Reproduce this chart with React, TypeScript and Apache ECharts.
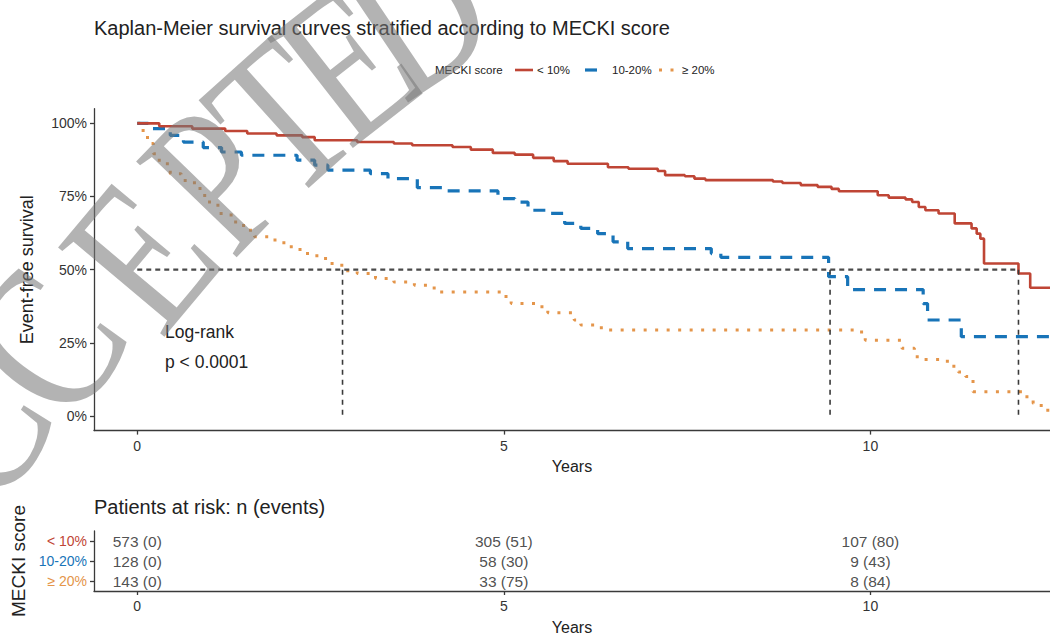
import React, { useEffect, useRef } from "react";
import * as echarts from "echarts";

const FONT = "'Liberation Sans', Arial, Helvetica, sans-serif";

const groups = ["< 10%", "10-20%", "≥ 20%"];
const colors = ["#BF4535", "#1874B8", "#E4954A"];

// Kaplan-Meier step points: time (years) and survival (%)
const lowTimes = [0, 0.3, 0.75, 1.2, 1.5, 1.9, 2.25, 2.42, 3.0, 3.5, 3.75, 4.3, 4.55, 4.85, 5.15, 5.4, 5.68, 5.87, 6.42, 6.7, 7.1, 7.2, 7.47, 7.6, 7.75, 8.67, 8.8, 9.05, 9.28, 9.47, 9.57, 10.1, 10.25, 10.48, 10.57, 10.66, 10.75, 10.93, 11.15, 11.38, 11.45, 11.5, 11.55, 12.02, 12.18, 12.6];
const lowSurv = [100, 99.0, 98.2, 97.4, 96.5, 95.9, 95.3, 94.2, 93.6, 93.1, 92.5, 91.9, 91.0, 89.9, 89.3, 88.2, 87.1, 86.2, 85.0, 84.5, 83.7, 82.3, 81.9, 81.1, 80.6, 80.1, 79.6, 78.9, 78.3, 77.6, 76.8, 75.4, 74.6, 74.0, 73.1, 71.4, 70.3, 69.2, 65.8, 64.1, 62.3, 60.6, 52.1, 48.7, 43.8, 43.8];

const midTimes = [0, 0.15, 0.45, 0.63, 0.9, 1.15, 1.42, 2.18, 2.42, 2.6, 3.18, 3.42, 3.82, 4.22, 4.92, 5.15, 5.33, 5.64, 5.83, 6.05, 6.28, 6.49, 6.69, 7.83, 7.96, 9.43, 9.69, 10.72, 10.78, 11.24, 12.6];
const midSurv = [100, 98.2, 95.9, 93.6, 91.7, 90.2, 89.1, 87.4, 85.7, 84.0, 82.8, 81.1, 78.0, 76.9, 74.3, 73.1, 70.3, 69.2, 65.8, 64.1, 62.3, 59.5, 57.2, 55.5, 54.2, 47.6, 43.2, 38.4, 32.8, 27.1, 27.1];

const highTimes = [0, 0.08, 0.14, 0.22, 0.3, 0.45, 0.6, 0.78, 0.92, 1.1, 1.28, 1.45, 1.6, 1.8, 2.0, 2.22, 2.45, 2.6, 2.79, 3.0, 3.25, 3.5, 3.78, 4.05, 5.03, 5.1, 5.52, 5.6, 5.96, 6.05, 6.33, 9.88, 9.93, 10.43, 10.6, 10.7, 11.05, 11.2, 11.3, 11.4, 12.1, 12.22, 12.33, 12.42, 12.6];
const highSurv = [100, 96.6, 93.1, 89.6, 86.2, 82.8, 80.5, 77.7, 73.1, 69.2, 66.3, 63.5, 61.2, 60.1, 57.8, 55.5, 53.8, 52.1, 49.6, 48.7, 47.0, 45.8, 44.7, 42.4, 39.6, 38.4, 36.4, 35.3, 32.8, 31.1, 29.4, 27.6, 25.9, 23.1, 20.2, 19.3, 17.0, 15.0, 13.5, 8.3, 6.6, 4.3, 2.6, 1.0, 1.0];

// median survival times (years) where each curve crosses 50%
const medianTimes = [2.8, 9.45, 12.02];
const medianLevel = 50;

const xTicks = [0, 5, 10];
const yTicks = [0, 25, 50, 75, 100];

// risk table
const riskTimes = [0, 5, 10];
const atRiskLow = [573, 305, 107];
const eventsLow = [0, 51, 80];
const atRiskMid = [128, 58, 9];
const eventsMid = [0, 30, 43];
const atRiskHigh = [143, 33, 8];
const eventsHigh = [0, 75, 84];

const curveTimes = [lowTimes, midTimes, highTimes];
const curveSurv = [lowSurv, midSurv, highSurv];
const riskN = [atRiskLow, atRiskMid, atRiskHigh];
const riskE = [eventsLow, eventsMid, eventsHigh];

const X_MIN = -0.59;
const X_MAX = 12.45;

export default function App() {
  const ref = useRef<HTMLDivElement>(null);

  useEffect(() => {
    document.body.style.margin = "0";
    if (!ref.current) return;
    const chart = echarts.init(ref.current, null, { renderer: "svg" });

    const axisLineStyle = { color: "#3a3a3a", width: 1.3 };
    const labelStyle = { fontFamily: FONT, fontSize: 14, color: "#333" };

    const lineStyles = [
      { color: colors[0], width: 2.6, type: "solid" as const },
      { color: colors[1], width: 3.2, type: [12, 9] as any },
      { color: colors[2], width: 3, type: [3, 8.5] as any, cap: "butt" as const },
    ];

    const curveSeries = groups.map((g, gi) => ({
      name: g,
      type: "line",
      xAxisIndex: 0,
      yAxisIndex: 0,
      step: "end",
      symbol: "none",
      silent: true,
      lineStyle: lineStyles[gi],
      data: curveTimes[gi].map((t, i) => [t, curveSurv[gi][i]]),
      z: 3 - gi + 2,
    }));

    const medianH = {
      type: "line",
      xAxisIndex: 0,
      yAxisIndex: 0,
      symbol: "none",
      silent: true,
      lineStyle: { color: "#4a4a4a", width: 2.3, type: [5, 4] as any },
      data: [
        [0, medianLevel],
        [Math.max(...medianTimes), medianLevel],
      ],
      z: 10,
    };

    const medianV = medianTimes.map((t) => ({
      type: "line",
      xAxisIndex: 0,
      yAxisIndex: 0,
      symbol: "none",
      silent: true,
      lineStyle: { color: "#3a3a3a", width: 1.6, type: [5, 5] as any },
      data: [
        [t, medianLevel],
        [t, 0],
      ],
      z: 10,
    }));

    const riskSeries = groups.map((g, gi) => ({
      type: "scatter",
      xAxisIndex: 1,
      yAxisIndex: 1,
      symbol: "circle",
      symbolSize: 1,
      silent: true,
      itemStyle: { color: "rgba(0,0,0,0)" },
      label: {
        show: true,
        position: "inside",
        formatter: (p: any) => p.value[2],
        fontFamily: FONT,
        fontSize: 15.5,
        color: "#222",
      },
      data: riskTimes.map((t, i) => [t, g, `${riskN[gi][i]} (${riskE[gi][i]})`]),
    }));

    const watermarkLetters = [
      { ch: "A", x: -95, y: 530, a: 62 },
      { ch: "C", x: -30, y: 428, a: 59 },
      { ch: "C", x: 45, y: 342, a: 55 },
      { ch: "E", x: 140, y: 255, a: 50 },
      { ch: "P", x: 214, y: 178, a: 46 },
      { ch: "T", x: 280, y: 118, a: 42 },
      { ch: "E", x: 346, y: 63, a: 38 },
      { ch: "D", x: 415, y: 12, a: 34 },
    ];

    const legendTextStyle = (text: string, x: number) => ({
      type: "text",
      x,
      y: 70,
      silent: true,
      style: {
        text,
        fontFamily: FONT,
        fontSize: 11.5,
        fill: "#222",
        align: "left",
        verticalAlign: "middle",
        textAlign: "left",
        textVerticalAlign: "middle",
      },
    });

    const option: any = {
      animation: false,
      backgroundColor: "#ffffff",
      title: [
        {
          text: "Kaplan-Meier survival curves stratified according to MECKI score",
          left: 94,
          top: 18,
          padding: 0,
          textStyle: { fontFamily: FONT, fontSize: 20, fontWeight: "normal", color: "#222" },
        },
        {
          text: "Patients at risk: n (events)",
          left: 94,
          top: 496.5,
          padding: 0,
          textStyle: { fontFamily: FONT, fontSize: 20, fontWeight: "normal", color: "#222" },
        },
      ],
      grid: [
        { left: 94, top: 108.7, width: 956, height: 321.9 },
        { left: 94, top: 531, width: 956, height: 60 },
      ],
      xAxis: [0, 1].map((gi) => ({
        type: "value",
        gridIndex: gi,
        min: X_MIN,
        max: X_MAX,
        name: "Years",
        nameLocation: "middle",
        nameGap: gi === 0 ? 27.5 : 28.5,
        nameTextStyle: { fontFamily: FONT, fontSize: 16, color: "#222" },
        axisLine: { show: true, onZero: false, lineStyle: axisLineStyle },
        axisTick: { show: true, length: 4, customValues: xTicks, lineStyle: axisLineStyle },
        axisLabel: { show: true, customValues: xTicks, margin: 8, ...labelStyle },
        splitLine: { show: false },
      })),
      yAxis: [
        {
          type: "value",
          gridIndex: 0,
          min: -5,
          max: 105,
          name: "Event-free survival",
          nameLocation: "middle",
          nameGap: 58,
          nameTextStyle: { fontFamily: FONT, fontSize: 18, color: "#222" },
          axisLine: { show: true, onZero: false, lineStyle: axisLineStyle },
          axisTick: { show: true, length: 4, customValues: yTicks, lineStyle: axisLineStyle },
          axisLabel: {
            show: true,
            customValues: yTicks,
            margin: 7,
            formatter: (v: number) => `${v}%`,
            ...labelStyle,
          },
          splitLine: { show: false },
        },
        {
          type: "category",
          gridIndex: 1,
          inverse: true,
          data: groups,
          name: "MECKI score",
          nameLocation: "middle",
          nameGap: 61,
          nameTextStyle: { fontFamily: FONT, fontSize: 19, color: "#222" },
          axisLine: { show: true, onZero: false, lineStyle: axisLineStyle },
          axisTick: { show: true, length: 4, alignWithLabel: true, lineStyle: axisLineStyle },
          axisLabel: {
            show: true,
            margin: 7,
            fontFamily: FONT,
            fontSize: 14,
            color: (v: string) => colors[groups.indexOf(v)],
          },
          splitLine: { show: false },
        },
      ],
      graphic: [
        legendTextStyle("MECKI score", 435),
        {
          type: "line",
          silent: true,
          shape: { x1: 515, y1: 70, x2: 533, y2: 70 },
          style: { stroke: colors[0], lineWidth: 2.6 },
        },
        legendTextStyle(groups[0], 537),
        {
          type: "line",
          silent: true,
          shape: { x1: 585, y1: 70, x2: 597, y2: 70 },
          style: { stroke: colors[1], lineWidth: 3.2 },
        },
        legendTextStyle(groups[1], 612),
        {
          type: "line",
          silent: true,
          shape: { x1: 659, y1: 70, x2: 674, y2: 70 },
          style: { stroke: colors[2], lineWidth: 3, lineDash: [3, 8.5] },
        },
        legendTextStyle(groups[2], 682),
        {
          type: "text",
          x: 165,
          y: 331.5,
          silent: true,
          style: {
            text: "Log-rank",
            fontFamily: FONT,
            fontSize: 17.5,
            fill: "#222",
            align: "left",
            verticalAlign: "middle",
            textAlign: "left",
            textVerticalAlign: "middle",
          },
        },
        {
          type: "text",
          x: 165,
          y: 361.5,
          silent: true,
          style: {
            text: "p < 0.0001",
            fontFamily: FONT,
            fontSize: 17.5,
            fill: "#222",
            align: "left",
            verticalAlign: "middle",
            textAlign: "left",
            textVerticalAlign: "middle",
          },
        },
        ...watermarkLetters.map((w) => ({
          type: "text",
          x: w.x,
          y: w.y,
          rotation: (w.a * Math.PI) / 180,
          scaleX: 0.8,
          silent: true,
          z: 200,
          style: {
            text: w.ch,
            fontFamily: "'Liberation Serif', 'DejaVu Serif', serif",
            fontWeight: "normal",
            fontSize: 212,
            fill: "rgba(120,120,120,0.56)",
            align: "center",
            verticalAlign: "middle",
            textAlign: "center",
            textVerticalAlign: "middle",
          },
        })),
      ],
      series: [...curveSeries, medianH, ...medianV, ...riskSeries],
    };

    chart.setOption(option);
    return () => chart.dispose();
  }, []);

  return (
    <div
      ref={ref}
      style={{ position: "absolute", left: 0, top: 0, width: 1050, height: 639 }}
    />
  );
}
